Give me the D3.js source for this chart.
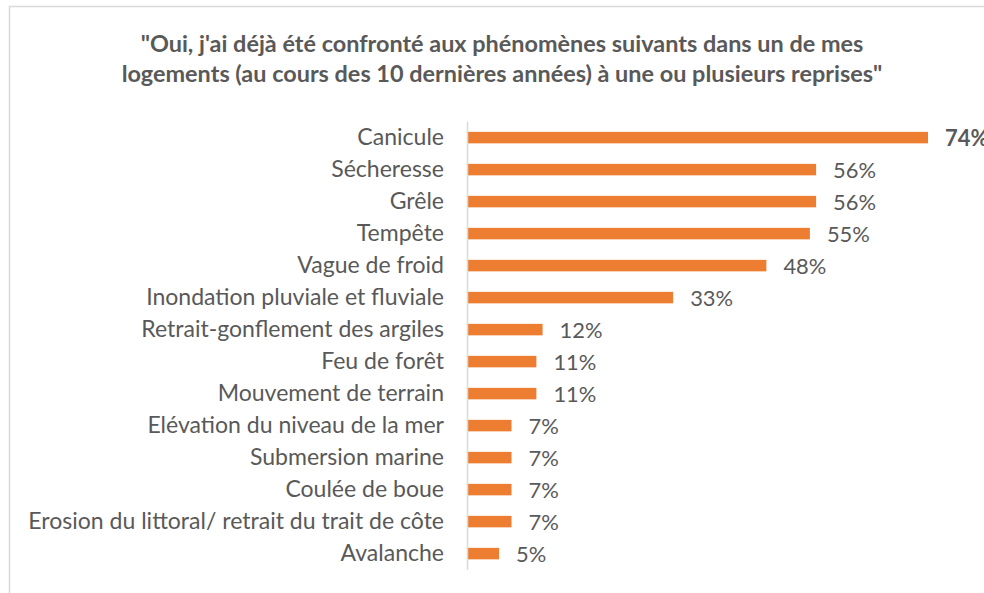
<!DOCTYPE html>
<html>
<head>
<meta charset="utf-8">
<script src="https://cdn.jsdelivr.net/npm/d3@7"></script>
<style>
  html, body { margin: 0; padding: 0; background: #ffffff; }
  svg { display: block; }
  text { font-family: Lato, "Open Sans", sans-serif; fill: #595959; }
</style>
</head>
<body>
<script>
// ---- Data ----
const categories = [
  "Canicule",
  "Sécheresse",
  "Grêle",
  "Tempête",
  "Vague de froid",
  "Inondation pluviale et fluviale",
  "Retrait-gonflement des argiles",
  "Feu de forêt",
  "Mouvement de terrain",
  "Elévation du niveau de la mer",
  "Submersion marine",
  "Coulée de boue",
  "Erosion du littoral/ retrait du trait de côte",
  "Avalanche"
];
const values = [74, 56, 56, 55, 48, 33, 12, 11, 11, 7, 7, 7, 7, 5];
const titleLines = [
  "\"Oui, j'ai déjà été confronté aux phénomènes suivants dans un de mes",
  "logements (au cours des 10 dernières années) à une ou plusieurs reprises\""
];

// ---- Layout ----
const W = 984, H = 593;
const svg = d3.select("body").append("svg").attr("width", W).attr("height", H);

// chart area border (top + left visible)
svg.append("path")
  .attr("d", `M9.5,${H} L9.5,6.5 L${W},6.5`)
  .attr("fill", "none")
  .attr("stroke", "#d9d9d9")
  .attr("stroke-width", 1.5);

const x = d3.scaleLinear().domain([0, 74]).range([468, 928]);
const y = d3.scaleBand().domain(categories).range([121.6, 569.6]).paddingInner(0.64).paddingOuter(0.32);

// Title
const title = svg.append("g");
title.selectAll("text").data(titleLines).join("text")
  .attr("x", 502)
  .attr("y", (d, i) => 52 + i * 30)
  .attr("text-anchor", "middle")
  .attr("font-weight", "bold")
  .attr("font-size", 19)
  .text(d => d);
{
  const n = title.select("text").node();
  const w = n.getComputedTextLength();
  title.selectAll("text").attr("font-size", 19 * 723 / w);
}

// Bars
svg.append("g").selectAll("rect").data(values).join("rect")
  .attr("x", x(0))
  .attr("y", (d, i) => y(categories[i]))
  .attr("width", d => x(d) - x(0))
  .attr("height", y.bandwidth())
  .attr("fill", "#ED7D31");

// Axis (vertical line, no ticks)
const axis = svg.append("g")
  .attr("transform", `translate(${x(0) - 1},0)`)
  .call(d3.axisLeft(y).tickSize(0).tickPadding(23));
axis.select(".domain").attr("stroke", "#d9d9d9").attr("stroke-width", 1.5);
axis.selectAll("text")
  .attr("font-family", "Lato, 'Open Sans', sans-serif")
  .attr("fill", "#595959")
  .attr("font-size", 17)
  .attr("dy", null)
  .attr("y", 7);
{
  let maxW = 0;
  axis.selectAll("text").each(function () { maxW = Math.max(maxW, this.getComputedTextLength()); });
  axis.selectAll("text").attr("font-size", 17 * 416 / maxW);
}

// Value labels
const vl = svg.append("g").selectAll("text").data(values).join("text")
  .attr("x", d => x(d) + 17)
  .attr("y", (d, i) => y(categories[i]) + y.bandwidth() / 2 + 8.5)
  .attr("font-size", 20)
  .attr("font-weight", (d, i) => i === 0 ? "bold" : "normal")
  .text(d => d + "%");
{
  // fit so a normal "56%" spans ~43px
  const n = vl.nodes()[1];
  const w = n.getComputedTextLength();
  vl.attr("font-size", 20 * 43 / w);
}
</script>
</body>
</html>
